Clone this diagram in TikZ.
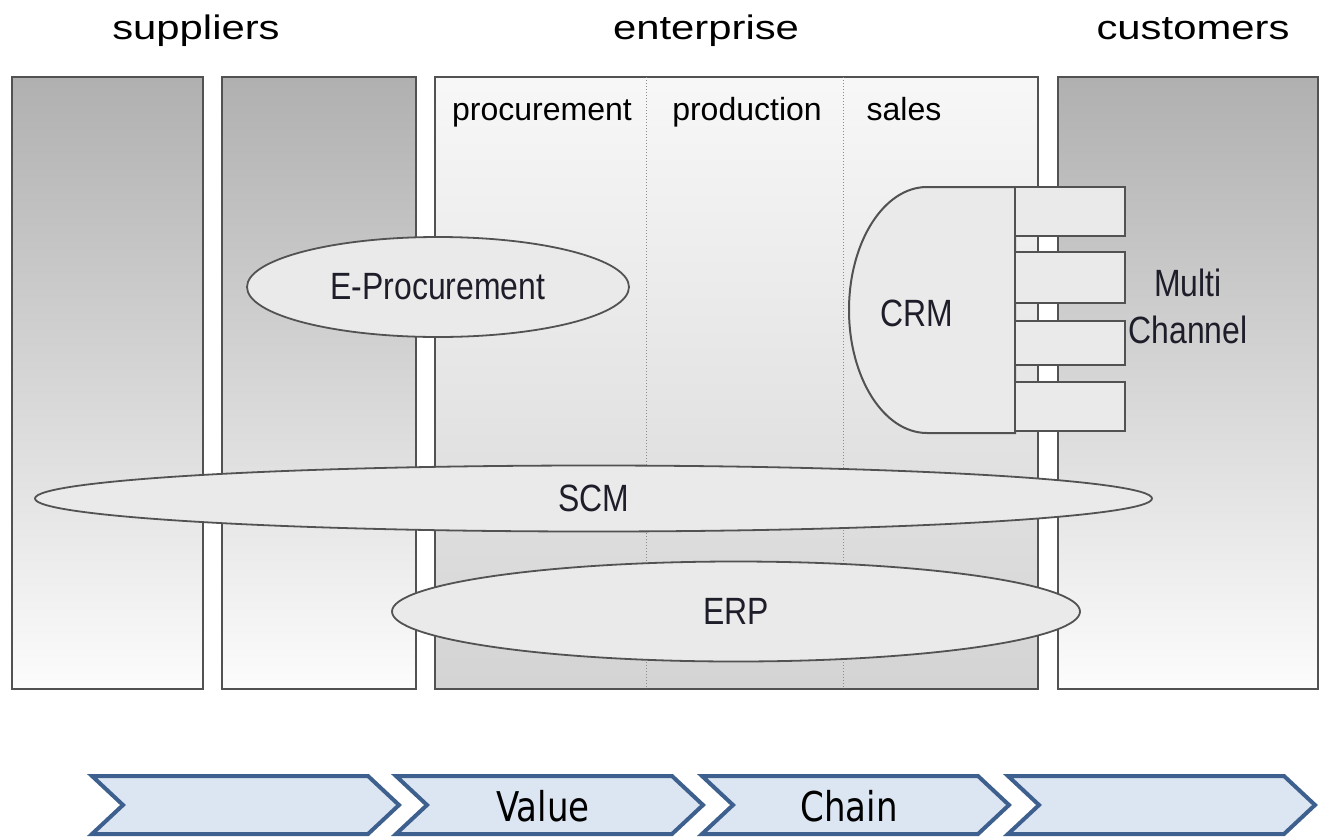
\documentclass[tikz,border=0pt]{standalone}
\usepackage{fontspec}
\setmainfont{Liberation Sans}
\newfontfamily\chainfont{DejaVu Sans}
\usepackage{graphicx}
\usetikzlibrary{shapes.geometric, positioning}
\definecolor{laneGray}{RGB}{176,176,176}
\definecolor{blobFill}{RGB}{234,234,234}
\definecolor{edgeGray}{RGB}{82,82,82}
\definecolor{inkDark}{RGB}{30,30,42}
\definecolor{chevBlue}{RGB}{62,96,142}
\definecolor{chevFill}{RGB}{220,230,242}
\newcommand{\squeeze}[2]{\scalebox{#1}[1]{#2}}

\begin{document}
\begin{tikzpicture}[
    x=1pt, y=-1pt,
    lane/.style={draw=edgeGray, line width=2pt, top color=laneGray, bottom color=black!1},
    core/.style={draw=edgeGray, line width=2pt, top color=black!3, bottom color=black!17},
    divider/.style={draw=black!45, line width=1pt, dotted},
    blob/.style={ellipse, draw=edgeGray, line width=1.8pt, fill=blobFill, inner sep=0pt},
    port/.style={draw=edgeGray, line width=2pt, fill=blobFill},
    head/.style={font=\fontsize{34}{40}\selectfont, anchor=base},
    dept/.style={font=\fontsize{32}{38}\selectfont, anchor=base},
    tag/.style={font=\fontsize{38}{47}\selectfont, text=inkDark, align=center},
    chev/.style={draw=chevBlue, line width=4pt, fill=chevFill, line join=miter},
    chevtext/.style={font=\chainfont\fontsize{41}{48}\selectfont}
]
\useasboundingbox (0,0) rectangle (1323,836);

% lanes
\draw[lane] (12,77) rectangle (203,689);
\draw[lane] (222,77) rectangle (416,689);
\draw[core] (435,77) rectangle (1038,689);
\draw[lane] (1058,77) rectangle (1318,689);
\draw[divider] (646,77) -- (646,689);
\draw[divider] (843,77) -- (843,689);

\node[head] (suppliers) at (196,39) {\squeeze{1.23}{suppliers}};
\node[head] (enterprise) at (706,39) {\squeeze{1.23}{enterprise}};
\node[head] (customers) at (1193,39) {\squeeze{1.23}{customers}};

\node[dept] (procurement) at (542,120) {procurement};
\node[dept] (production) at (747,120) {production};
\node[dept] (sales) at (904,120) {sales};

% systems
\node[blob, minimum width=382pt, minimum height=100pt] (eproc) at (438,287) {};
\node[tag] (eproclabel) at (eproc.center) {\squeeze{0.84}{E-Procurement}};

\draw[port] (1015,187) -- (927,187) arc[start angle=270, end angle=90, x radius=78, y radius=123] -- (1015,433) -- cycle;
\node[tag] (crm) at (917,313) {\squeeze{0.84}{CRM}};

\foreach \top/\bot in {187/236, 252/303, 321/365, 382/431}
  \draw[port] (1015,\top) rectangle (1125,\bot);
\node[tag] (channel) at (1188,306) {\squeeze{0.84}{Multi}\\\squeeze{0.84}{Channel}};

\node[blob, minimum width=1117pt, minimum height=66pt] (scm) at (593.5,498.5) {};
\node[tag] (scmlabel) at (scm.center) {\squeeze{0.84}{SCM}};
\node[blob, minimum width=688pt, minimum height=100pt] (erp) at (736,611.5) {};
\node[tag] (erplabel) at (erp.center) {\squeeze{0.84}{ERP}};

% value chain
\foreach \x/\txt [count=\i] in {92/{}, 396/Value, 702/Chain, 1008/{}} {
  \draw[chev] (\x,776) -- ++(276,0) -- ++(31,29) -- ++(-31,29) -- ++(-276,0) -- ++(31,-29) -- cycle;
  \node[chevtext] (chain\i) at (\x+147,806) {\squeeze{0.83}{\txt}};
}
\end{tikzpicture}
\end{document}
